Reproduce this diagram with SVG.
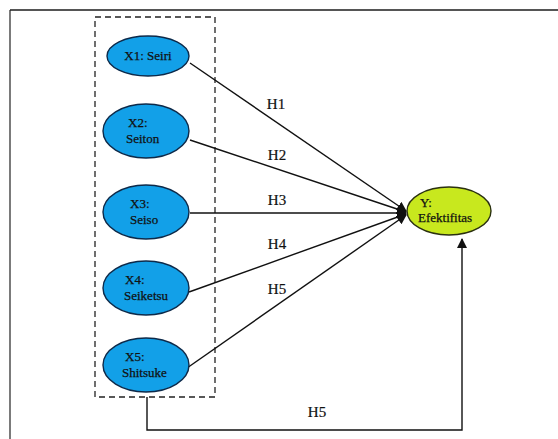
<svg xmlns="http://www.w3.org/2000/svg" width="558" height="439" viewBox="0 0 558 439">
  <style>
    .frame-top { stroke: #555; stroke-width: 2; fill: none; }
    .frame-left { stroke: #222; stroke-width: 1.2; fill: none; }
    .group-box { stroke: #222; stroke-width: 1.3; stroke-dasharray: 6 4; fill: none; }
    .xnode { fill: #12a0e8; stroke: #0d2a4a; stroke-width: 1.4; }
    .ynode { fill: #c8e81e; stroke: #2a3010; stroke-width: 1.4; }
    .label { font-family: "Liberation Serif", "Times New Roman", serif; font-size: 13px; fill: #111; stroke: #111; stroke-width: 0.25; }
    .hlabel { font-family: "Liberation Serif", "Times New Roman", serif; font-size: 15px; fill: #111; stroke: #111; stroke-width: 0.2; text-anchor: middle; }
    .edge { stroke: #111; stroke-width: 1.4; fill: none; marker-end: url(#arrow); }
  </style>
  <defs>
    <marker id="arrow" viewBox="0 0 10 10" refX="9" refY="5" markerWidth="10" markerHeight="10" markerUnits="userSpaceOnUse" orient="auto">
      <path d="M0,0 L10,5 L0,10 Z" fill="#111"/>
    </marker>
  </defs>
  <rect width="558" height="439" fill="#fff"/>

  <!-- outer frame -->
  <line class="frame-top" x1="10" y1="10" x2="558" y2="10"/>
  <line class="frame-left" x1="10" y1="10" x2="10" y2="439"/>

  <!-- dashed grouping of the 5S variables -->
  <rect class="group-box" x="95" y="17" width="120" height="380"/>

  <!-- connectors -->
  <g id="connectors">
    <line class="edge" x1="190" y1="63" x2="406" y2="211"/>
    <line class="edge" x1="190" y1="140" x2="406" y2="212"/>
    <line class="edge" x1="190" y1="213" x2="406" y2="213"/>
    <line class="edge" x1="189" y1="292" x2="406" y2="214"/>
    <line class="edge" x1="187" y1="368" x2="406" y2="215"/>
    <polyline class="edge" points="147,397 147,430 462,430 462,239"/>
    <text class="hlabel" x="276" y="109">H1</text>
    <text class="hlabel" x="277" y="160">H2</text>
    <text class="hlabel" x="277" y="205">H3</text>
    <text class="hlabel" x="277" y="249">H4</text>
    <text class="hlabel" x="277" y="294">H5</text>
    <text class="hlabel" x="317" y="417">H5</text>
  </g>

  <g id="x1">
    <ellipse class="xnode" cx="148" cy="56" rx="41" ry="20"/>
    <text class="label" x="148" y="60" text-anchor="middle">X1: Seiri</text>
  </g>
  <g id="x2">
    <ellipse class="xnode" cx="146" cy="131" rx="43" ry="27"/>
    <text class="label" x="128" y="127">X2:</text>
    <text class="label" x="126" y="143">Seiton</text>
  </g>
  <g id="x3">
    <ellipse class="xnode" cx="146" cy="212" rx="43" ry="27"/>
    <text class="label" x="130" y="208">X3:</text>
    <text class="label" x="130" y="224">Seiso</text>
  </g>
  <g id="x4">
    <ellipse class="xnode" cx="146" cy="288" rx="43" ry="27"/>
    <text class="label" x="125" y="284">X4:</text>
    <text class="label" x="124" y="300">Seiketsu</text>
  </g>
  <g id="x5">
    <ellipse class="xnode" cx="146" cy="365" rx="43" ry="27"/>
    <text class="label" x="125" y="361">X5:</text>
    <text class="label" x="122" y="377">Shitsuke</text>
  </g>
  <g id="y">
    <ellipse class="ynode" cx="449" cy="211" rx="42" ry="24"/>
    <text class="label" x="420" y="207">Y:</text>
    <text class="label" x="418" y="222">Efektifitas</text>
  </g>
</svg>
